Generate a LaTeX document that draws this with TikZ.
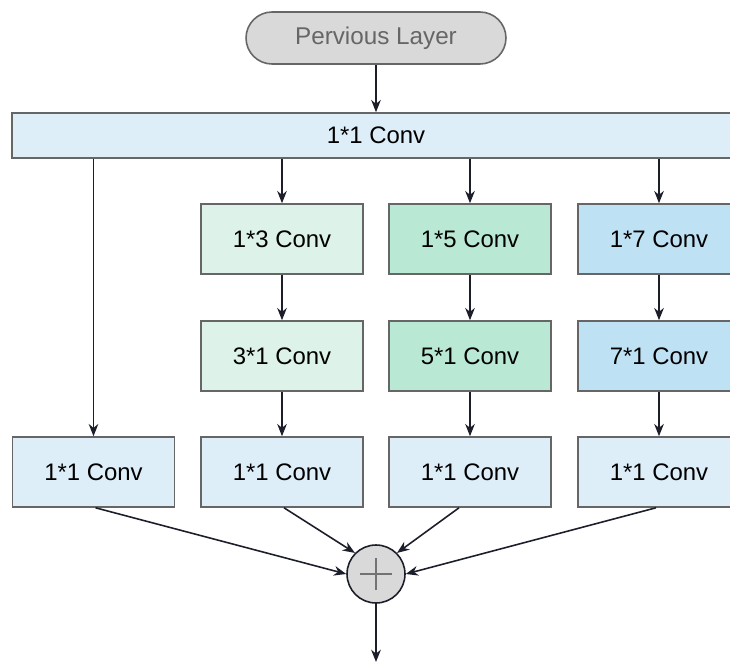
\documentclass[tikz,border=0pt]{standalone}
\usepackage{fontspec}
\setmainfont{Liberation Sans}
\usetikzlibrary{arrows.meta}
\usetikzlibrary{positioning}
\definecolor{convblue}{HTML}{DDEEF9}
\definecolor{convmint}{HTML}{DDF3EA}
\definecolor{convgreen}{HTML}{B9E9D5}
\definecolor{convsky}{HTML}{BEE1F4}
\definecolor{layergray}{HTML}{D9D9D9}
\definecolor{linedark}{HTML}{1C1F2A}

\begin{document}
\begin{tikzpicture}[x=0.02cm,y=-0.02cm,-{Stealth[length=7pt,width=5.5pt]},linedark,line width=0.9pt,
		conv node/.style={rectangle, draw=black!60, line width=0.9pt, minimum width=3.24cm, minimum height=1.4cm, inner sep=0pt, font=\fontsize{13.6}{16}\selectfont, text=black},
		layer node/.style={rectangle, rounded corners=0.52cm, draw=black!60, fill=layergray, line width=0.9pt, minimum width=5.2cm, minimum height=1.04cm, font=\fontsize{13.8}{16}\selectfont, text=black!60}]
			\useasboundingbox (0,0) rectangle (730,662);
			% Nodes
			\node [layer node] (prev) at (376,38) {Pervious Layer};
			\node [conv node, fill=convblue, minimum width=14.76cm, minimum height=0.9cm] (top) at (381,135.5) {};
			\node [font=\fontsize{13.6}{16}\selectfont, text=black] (toplabel) at (376,135.5) {1*1 Conv};
			
			\node [conv node, fill=convmint] (a1) at (282,239) {1*3 Conv};
			\node [conv node, fill=convgreen] (b1) at (470,239) {1*5 Conv};
			\node [conv node, fill=convsky] (c1) at (659,239) {1*7 Conv};
			
			\node [conv node, fill=convmint] (a2) at (282,356) {3*1 Conv};
			\node [conv node, fill=convgreen] (b2) at (470,356) {5*1 Conv};
			\node [conv node, fill=convsky] (c2) at (659,356) {7*1 Conv};
			
			\node [conv node, fill=convblue] (d3) at (93.5,472) {1*1 Conv};
			\node [conv node, fill=convblue] (a3) at (282,472) {1*1 Conv};
			\node [conv node, fill=convblue] (b3) at (470,472) {1*1 Conv};
			\node [conv node, fill=convblue] (c3) at (659,472) {1*1 Conv};
			
			\node [circle, draw=linedark, fill=layergray, minimum size=1.16cm, inner sep=0pt] (sum) at (376,574) {};
			\draw [-, black!55, line width=1.1pt] ([xshift=-0.32cm]sum.center) -- ([xshift=0.32cm]sum.center)
			([yshift=-0.32cm]sum.center) -- ([yshift=0.32cm]sum.center);
			\coordinate (out) at (376,662);
			
			% Connectors
			\draw (prev) -- (prev |- top.north);
			\draw (top.south -| d3) -- (d3);
			\draw (top.south -| a1) -- (a1);
			\draw (top.south -| b1) -- (b1);
			\draw (top.south -| c1) -- (c1);
			
			\path
			(a1) edge (a2)
			(b1) edge (b2)
			(c1) edge (c2)
			(a2) edge (a3)
			(b2) edge (b3)
			(c2) edge (c3);
			
			\draw ([xshift=0.04cm]d3.south) -- (sum.west);
			\draw ([xshift=0.04cm]a3.south) -- (sum.north west);
			\draw ([xshift=-0.22cm]b3.south) -- (sum.north east);
			\draw ([xshift=-0.06cm]c3.south) -- (sum.east);
			\draw (sum) -- (out);
			
		\end{tikzpicture}
\end{document}
